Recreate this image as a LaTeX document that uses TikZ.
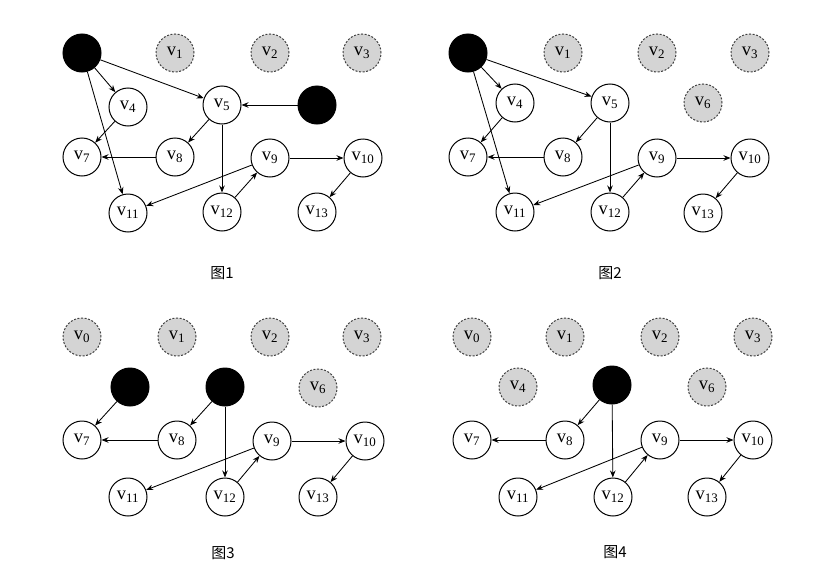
\documentclass[tikz,border=0pt]{standalone}
\usepackage{fontspec}
\setmainfont{Liberation Serif}
\newfontfamily\cjk{Noto Sans CJK SC}
\usetikzlibrary{arrows.meta}
\newcommand\vl[1]{v\textsubscript{#1}}
\tikzset{
  base/.style={circle,minimum size=38pt,inner sep=0pt,line width=1pt,font=\fontsize{18.5}{18.5}\selectfont},
  wnode/.style={base,draw=black,fill=white},
  gnode/.style={base,draw=black!75,fill=black!17,dash pattern=on 2pt off 1.6pt},
  bnode/.style={base,draw=black,fill=black},
  edge/.style={line width=0.85pt,-{Stealth[length=7pt,width=5.5pt]}},
  captext/.style={font=\cjk\fontsize{15}{15}\selectfont}
}
\begin{document}
\begin{tikzpicture}[x=1pt,y=-1pt]
\useasboundingbox[fill=white] (0,0) rectangle (816,570);
% ---------- Panel 1 ----------
\node[bnode] (a0) at (82,53) {};
\node[gnode] (a1) at (175,53) {\vl{1}};
\node[gnode] (a2) at (270,53) {\vl{2}};
\node[gnode] (a3) at (362,53) {\vl{3}};
\node[wnode] (a4) at (128,107) {\vl{4}};
\node[wnode] (a5) at (222,105) {\vl{5}};
\node[bnode] (a6) at (317,105) {};
\node[wnode] (a7) at (82,157) {\vl{7}};
\node[wnode] (a8) at (175,157) {\vl{8}};
\node[wnode] (a9) at (270,158) {\vl{9}};
\node[wnode] (a10) at (363,158) {\vl{10}};
\node[wnode] (a11) at (128,213) {\vl{11}};
\node[wnode] (a12) at (222,212) {\vl{12}};
\node[wnode] (a13) at (317,212) {\vl{13}};
\draw[edge] (a0) -- (a4);
\draw[edge] (a0) -- (a5);
\draw[edge] (a0) -- (a11);
\draw[edge] (a4) -- (a7);
\draw[edge] (a5) -- (a8);
\draw[edge] (a5) -- (a12);
\draw[edge] (a6) -- (a5);
\draw[edge] (a8) -- (a7);
\draw[edge] (a9) -- (a10);
\draw[edge] (a9) -- (a11);
\draw[edge] (a12) -- (a9);
\draw[edge] (a10) -- (a13);
\node[captext] (cap1) at (222,273) {图1};
% ---------- Panel 2 ----------
\node[bnode] (b0) at (468,53) {};
\node[gnode] (b1) at (563,53) {\vl{1}};
\node[gnode] (b2) at (657,53) {\vl{2}};
\node[gnode] (b3) at (750,53) {\vl{3}};
\node[wnode] (b4) at (515,103) {\vl{4}};
\node[wnode] (b5) at (610,103) {\vl{5}};
\node[gnode] (b6) at (703,103) {\vl{6}};
\node[wnode] (b7) at (468,157) {\vl{7}};
\node[wnode] (b8) at (563,157) {\vl{8}};
\node[wnode] (b9) at (657,158) {\vl{9}};
\node[wnode] (b10) at (750,158) {\vl{10}};
\node[wnode] (b11) at (515,212) {\vl{11}};
\node[wnode] (b12) at (610,212) {\vl{12}};
\node[wnode] (b13) at (703,213) {\vl{13}};
\draw[edge] (b0) -- (b4);
\draw[edge] (b0) -- (b5);
\draw[edge] (b0) -- (b11);
\draw[edge] (b4) -- (b7);
\draw[edge] (b5) -- (b8);
\draw[edge] (b5) -- (b12);
\draw[edge] (b8) -- (b7);
\draw[edge] (b9) -- (b10);
\draw[edge] (b9) -- (b11);
\draw[edge] (b12) -- (b9);
\draw[edge] (b10) -- (b13);
\node[captext] (cap2) at (610,273) {图2};
% ---------- Panel 3 ----------
\node[gnode] (c0) at (82,337) {\vl{0}};
\node[gnode] (c1) at (177,337) {\vl{1}};
\node[gnode] (c2) at (270,337) {\vl{2}};
\node[gnode] (c3) at (362,337) {\vl{3}};
\node[bnode] (c4) at (130,387) {};
\node[bnode] (c5) at (225,387) {};
\node[gnode] (c6) at (318,388) {\vl{6}};
\node[wnode] (c7) at (82,440) {\vl{7}};
\node[wnode] (c8) at (177,440) {\vl{8}};
\node[wnode] (c9) at (272,441) {\vl{9}};
\node[wnode] (c10) at (365,441) {\vl{10}};
\node[wnode] (c11) at (128,497) {\vl{11}};
\node[wnode] (c12) at (225,497) {\vl{12}};
\node[wnode] (c13) at (318,497) {\vl{13}};
\draw[edge] (c4) -- (c7);
\draw[edge] (c5) -- (c8);
\draw[edge] (c5) -- (c12);
\draw[edge] (c8) -- (c7);
\draw[edge] (c9) -- (c10);
\draw[edge] (c9) -- (c11);
\draw[edge] (c12) -- (c9);
\draw[edge] (c10) -- (c13);
\node[captext] (cap3) at (223,553) {图3};
% ---------- Panel 4 ----------
\node[gnode] (d0) at (472,337) {\vl{0}};
\node[gnode] (d1) at (565,337) {\vl{1}};
\node[gnode] (d2) at (660,337) {\vl{2}};
\node[gnode] (d3) at (753,337) {\vl{3}};
\node[gnode] (d4) at (518,387) {\vl{4}};
\node[bnode] (d5) at (612,385) {};
\node[gnode] (d6) at (707,387) {\vl{6}};
\node[wnode] (d7) at (472,440) {\vl{7}};
\node[wnode] (d8) at (565,440) {\vl{8}};
\node[wnode] (d9) at (660,440) {\vl{9}};
\node[wnode] (d10) at (753,440) {\vl{10}};
\node[wnode] (d11) at (518,497) {\vl{11}};
\node[wnode] (d12) at (613,497) {\vl{12}};
\node[wnode] (d13) at (707,497) {\vl{13}};
\draw[edge] (d5) -- (d8);
\draw[edge] (d5) -- (d12);
\draw[edge] (d8) -- (d7);
\draw[edge] (d9) -- (d10);
\draw[edge] (d9) -- (d11);
\draw[edge] (d12) -- (d9);
\draw[edge] (d10) -- (d13);
\node[captext] (cap4) at (615,552) {图4};
\end{tikzpicture}
\end{document}
